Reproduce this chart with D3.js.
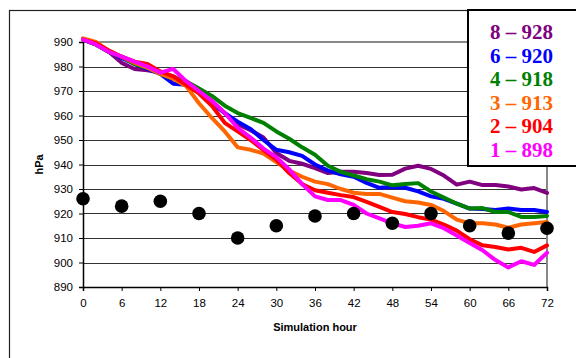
<!DOCTYPE html>
<html lang="en">
<head>
  <meta charset="UTF-8">
  <title>Simulated central pressure</title>
  <script src="https://d3js.org/d3.v7.min.js"></script>
  <style>
    body { margin: 0; background: #fff; }
    svg { display: block; }
    .tick text { font-family: "Liberation Sans", Arial, sans-serif; font-size: 11.5px; fill: #000; }
    .axis-title { font-family: "Liberation Sans", Arial, sans-serif; font-size: 11px; font-weight: bold; }
    .legend text { font-family: "Liberation Serif", "Times New Roman", serif; font-size: 21px; font-weight: bold; }
  </style>
</head>
<body>
  <svg width="576" height="358"></svg>

  <script>
    const width = 576, height = 358;

    // simulation output every 2 hours
    const hours = [0, 2, 4, 6, 8, 10, 12, 14, 16, 18, 20, 22, 24, 26, 28, 30, 32, 34, 36,
                   38, 40, 42, 44, 46, 48, 50, 52, 54, 56, 58, 60, 62, 64, 66, 68, 70, 72];

    const run8 = [991, 989, 986, 981.5, 979, 978.5, 977.5, 976, 973, 969.5, 965.5, 961, 956.5, 954, 951, 944.7, 941.5, 940.3, 938.5,
                  936.5, 937, 937, 936.5, 935.7, 935.8, 938.3, 939.5, 938.2, 935.5, 931.8, 933, 931.6, 931.6, 931, 929.8, 930.4, 928.4];
    const run6 = [991, 989, 986, 983.5, 981, 979, 977, 973, 972.5, 969.5, 965, 961, 957.5, 954.5, 950, 946, 945, 943.5, 940,
                  937.5, 936, 935, 932.5, 930.5, 930.8, 930.5, 929, 927, 926, 924, 922, 921.8, 921.4, 922, 921.4, 921.4, 920.6];
    const run4 = [991, 989, 986, 984, 981, 979.5, 977, 975, 974, 971, 968, 964, 961, 959, 957, 953.5, 950.5, 947, 944,
                  939.5, 937, 935.5, 934, 933, 931.5, 932, 932.4, 929, 926.5, 924, 922, 922.2, 920.6, 920.6, 918.6, 918.6, 919];
    const run3 = [991.5, 990, 986.5, 984, 981.5, 979.5, 977, 975, 972, 965, 959, 953.5, 947, 946, 944.5, 941, 937.5, 935, 933,
                  932, 930, 928.5, 928, 928, 926.5, 925, 924.5, 923.5, 921, 917.5, 916, 916, 915.5, 914.2, 915.5, 916, 916.5];
    const run2 = [991, 989.5, 986.5, 984, 982, 981, 978, 976, 972.5, 969, 964, 957, 953.5, 950, 946, 942, 936.5, 932, 929.5,
                  928.5, 927.5, 926.7, 924.7, 922.7, 920.6, 919.8, 918.5, 917.5, 915.5, 913, 909.5, 907, 906.3, 905.3, 906, 904.3, 907];
    const run1 = [991, 989, 986, 984, 982, 980, 977.5, 979, 974, 970, 966, 961, 955, 951, 946.5, 943, 938, 932, 927,
                  925.5, 925.5, 923.5, 920, 918, 916, 914.5, 915, 916, 914, 911, 908, 905, 901, 898, 900.5, 899, 904];

    // observed pressure every 6 hours
    const obsHours = [0, 6, 12, 18, 24, 30, 36, 42, 48, 54, 60, 66, 72];
    const obsValues = [926, 923, 925, 920, 910, 915, 919, 920, 916, 920, 915, 912, 914];

    const runColors = ["#800080", "#0000ff", "#008000", "#ff6600", "#ff0000", "#ff00ff"];
    const legendLabels = ["8 \u2013 928", "6 \u2013 920", "4 \u2013 918", "3 \u2013 913", "2 \u2013 904", "1 \u2013 898"];
    const runs = [run8, run6, run4, run3, run2, run1];

    const yTicks = [890, 900, 910, 920, 930, 940, 950, 960, 970, 980, 990];
    const xTicks = [0, 6, 12, 18, 24, 30, 36, 42, 48, 54, 60, 66, 72];

    const svg = d3.select("svg");

    // outer chart frame (runs off the right and bottom edges)
    svg.append("rect")
      .attr("x", 9.5).attr("y", 10.5)
      .attr("width", 600).attr("height", 400)
      .attr("fill", "none").attr("stroke", "#222").attr("stroke-width", 1.2);

    const x = d3.scaleLinear().domain([0, 72]).range([83, 547]);
    const y = d3.scaleLinear().domain([890, 990]).range([287, 42]);

    // grid lines
    svg.append("g")
      .selectAll("line")
      .data(yTicks.filter(d => d > 890 && d < 990))
      .join("line")
      .attr("x1", x(0)).attr("x2", x(72))
      .attr("y1", d => Math.round(y(d)) + 0.5).attr("y2", d => Math.round(y(d)) + 0.5)
      .attr("stroke", "#333").attr("stroke-width", 1);

    // plot area border (top and right), grey
    svg.append("path")
      .attr("d", `M${x(0)},${y(990)}H${x(72)}V${y(890)}`)
      .attr("fill", "none").attr("stroke", "#888").attr("stroke-width", 2);

    // axes
    const yAxis = svg.append("g")
      .attr("transform", `translate(${x(0)},0)`)
      .call(d3.axisLeft(y).tickValues(yTicks).tickSize(4).tickPadding(6));
    const xAxis = svg.append("g")
      .attr("transform", `translate(0,${y(890)})`)
      .call(d3.axisBottom(x).tickValues(xTicks).tickSize(4).tickPadding(8));
    [yAxis, xAxis].forEach(g => {
      g.select(".domain").attr("stroke", "#000").attr("stroke-width", 1.5);
      g.selectAll(".tick line").attr("stroke", "#000");
    });

    // simulated runs
    const line = d3.line()
      .x((d, i) => x(hours[i]))
      .y(d => y(d));

    svg.append("g")
      .selectAll("path")
      .data(runs)
      .join("path")
      .attr("d", line)
      .attr("fill", "none")
      .attr("stroke", (d, i) => runColors[i])
      .attr("stroke-width", 4)
      .attr("stroke-linejoin", "round")
      .attr("stroke-linecap", "round");

    // observations
    svg.append("g")
      .selectAll("circle")
      .data(obsValues)
      .join("circle")
      .attr("cx", (d, i) => x(obsHours[i]))
      .attr("cy", d => y(d))
      .attr("r", 6.8)
      .attr("fill", "#000");

    // axis titles
    svg.append("text")
      .attr("class", "axis-title")
      .attr("x", (x(0) + x(72)) / 2).attr("y", 331)
      .attr("text-anchor", "middle")
      .text("Simulation hour");

    svg.append("text")
      .attr("class", "axis-title")
      .attr("transform", `translate(43,${(y(890) + y(990)) / 2}) rotate(-90)`)
      .attr("text-anchor", "middle")
      .text("hPa");

    // legend
    const legend = svg.append("g").attr("class", "legend");
    legend.append("rect")
      .attr("x", 468).attr("y", 10)
      .attr("width", 120).attr("height", 156)
      .attr("fill", "#fff").attr("stroke", "#000").attr("stroke-width", 2);
    legend.selectAll("text")
      .data(legendLabels)
      .join("text")
      .attr("x", 490)
      .attr("y", (d, i) => 39 + i * 23.5)
      .attr("fill", (d, i) => runColors[i])
      .text(d => d);
  </script>
</body>
</html>
